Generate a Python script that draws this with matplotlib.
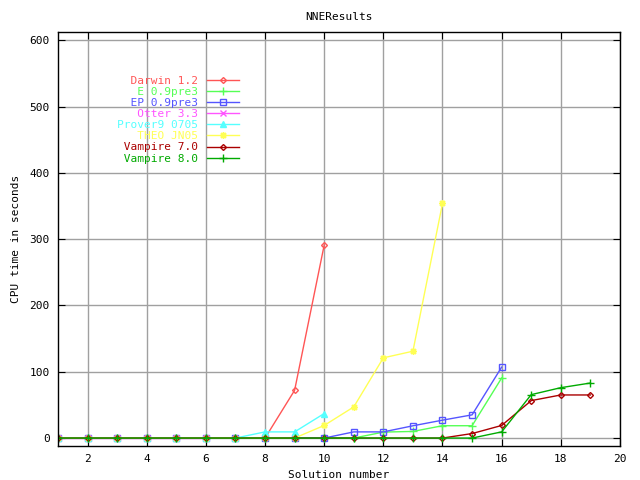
import matplotlib
matplotlib.use("Agg")
import matplotlib.pyplot as plt

# data (solution number -> cpu seconds)
darwin_x = [1, 2, 3, 4, 5, 6, 7, 8, 9, 10]
darwin_y = [0, 0, 0, 0, 0, 0, 0, 0, 72, 291]
e_x = [1, 2, 3, 4, 5, 6, 7, 8, 9, 10, 11, 12, 13, 14, 15, 16]
e_y = [0, 0, 0, 0, 0, 0, 0, 0, 0, 0, 0, 9, 10, 18.6, 18.6, 90.6]
ep_x = [1, 2, 3, 4, 5, 6, 7, 8, 9, 10, 11, 12, 13, 14, 15, 16]
ep_y = [0, 0, 0, 0, 0, 0, 0, 0, 0, 0, 9.3, 9.3, 18.5, 27, 35, 107]
otter_x = [1, 2, 3, 4, 5, 6]
otter_y = [0, 0, 0, 0, 0, 0]
prover9_x = [1, 2, 3, 4, 5, 6, 7, 8, 9, 10]
prover9_y = [0, 0, 0, 0, 0, 0, 0, 9.3, 9.3, 37]
theo_x = [1, 2, 3, 4, 5, 6, 7, 8, 9, 10, 11, 12, 13, 14]
theo_y = [0, 0, 0, 0, 0, 0, 0, 0, 0, 19, 47, 121, 131, 354]
v7_x = [1, 2, 3, 4, 5, 6, 7, 8, 9, 10, 11, 12, 13, 14, 15, 16, 17, 18, 19]
v7_y = [0, 0, 0, 0, 0, 0, 0, 0, 0, 0, 0, 0, 0, 0, 6.8, 19, 56.5, 65, 65]
v8_x = [1, 2, 3, 4, 5, 6, 7, 8, 9, 10, 11, 12, 13, 14, 15, 16, 17, 18, 19]
v8_y = [0, 0, 0, 0, 0, 0, 0, 0, 0, 0, 0, 0, 0, 0, 0, 9.3, 65.5, 76, 83]

xticks = [2, 4, 6, 8, 10, 12, 14, 16, 18, 20]
yticks = [0, 100, 200, 300, 400, 500, 600]

font = "DejaVu Sans Mono"
fs = 8

fig = plt.figure(figsize=(6.4, 4.8), dpi=100)
ax = fig.add_axes([0.0906, 0.0708, 0.8781, 0.8619])

series = [
    ("Darwin 1.2", darwin_x, darwin_y, "#ff5555", "D", 3, "none"),
    ("E 0.9pre3", e_x, e_y, "#55ff55", "+", 6, None),
    ("EP 0.9pre3", ep_x, ep_y, "#5555ff", "s", 4.5, "none"),
    ("Otter 3.3", otter_x, otter_y, "#ff55ff", "x", 4.5, None),
    ("Prover9 0705", prover9_x, prover9_y, "#55ffff", "^", 4, None),
    ("THEO JN05", theo_x, theo_y, "#ffff55", (8, 2, 0), 5, None),
    ("Vampire 7.0", v7_x, v7_y, "#aa0000", "D", 3, "none"),
    ("Vampire 8.0", v8_x, v8_y, "#00aa00", "+", 6, None),
]
width = max(len(s[0]) for s in series)
for name, xs, ys, col, mk, ms, mfc in series:
    kw = dict(color=col, lw=1, marker=mk, ms=ms, mew=1)
    if mfc:
        kw["mfc"] = mfc
    ax.plot(xs, ys, label=name.rjust(width), **kw)

ax.set_xlim(1, 20)
ax.set_ylim(-12, 612)
ax.set_xticks(xticks)
ax.set_yticks(yticks)
ax.grid(True, color="#a0a0a0", lw=1)
ax.set_axisbelow(True)
ax.tick_params(direction="in", length=5, top=True, right=True, labelsize=fs, pad=6)
for lab in ax.get_xticklabels() + ax.get_yticklabels():
    lab.set_family(font)
for sp in ax.spines.values():
    sp.set_linewidth(1)

ax.set_title("NNEResults", fontsize=fs, family=font, pad=9)
ax.set_xlabel("Solution number", fontsize=fs, family=font, labelpad=4)
ax.set_ylabel("CPU time in seconds", fontsize=fs, family=font, labelpad=6)

leg = ax.legend(loc="upper left", bbox_to_anchor=(0.105, 0.895), frameon=False,
                markerfirst=False, prop={"family": font, "size": fs},
                handlelength=2.9, handletextpad=0.8, labelspacing=0.1,
                borderpad=0, borderaxespad=0)
for t, s in zip(leg.get_texts(), series):
    t.set_color(s[3])

fig.savefig("out.png", dpi=100)
